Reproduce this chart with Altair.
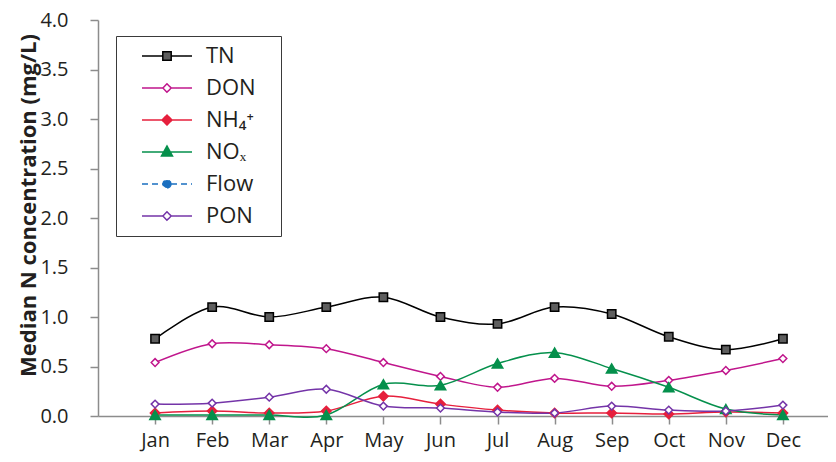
import altair as alt
import pandas as pd

months = ["Jan", "Feb", "Mar", "Apr", "May", "Jun", "Jul", "Aug", "Sep", "Oct", "Nov", "Dec"]
month_idx = list(range(12))

series_names = ["TN", "DON", "NH₄⁺", "NOₓ", "Flow", "PON"]
tn = [0.78, 1.10, 1.00, 1.10, 1.20, 1.00, 0.93, 1.10, 1.03, 0.80, 0.67, 0.78]
don = [0.54, 0.73, 0.72, 0.68, 0.54, 0.40, 0.29, 0.38, 0.30, 0.36, 0.46, 0.58]
nh4 = [0.03, 0.05, 0.03, 0.05, 0.20, 0.12, 0.06, 0.03, 0.03, 0.02, 0.04, 0.03]
nox = [0.01, 0.01, 0.01, 0.01, 0.32, 0.31, 0.53, 0.64, 0.48, 0.29, 0.07, 0.01]
pon = [0.12, 0.13, 0.19, 0.27, 0.10, 0.08, 0.04, 0.03, 0.10, 0.06, 0.05, 0.11]

line_colors = ["#000000", "#c0168c", "#e6203d", "#05904c", "#1a6fc0", "#7434a8"]
marker_fills = ["#5e5e5e", "#ffffff", "#e6203d", "#05904c", "#1a6fc0", "#ffffff"]
marker_shapes = ["square", "diamond", "diamond", "triangle-up", "circle", "diamond"]
marker_sizes = [70, 60, 90, 110, 70, 60]

rows = []
for name, vals in zip(["TN", "DON", "NH₄⁺", "NOₓ", "PON"], [tn, don, nh4, nox, pon]):
    for i, v in enumerate(vals):
        rows.append({"m": month_idx[i], "series": name, "v": v})
df = pd.DataFrame(rows)

label_expr = "[" + ",".join("'%s'" % m for m in months) + "][datum.value]"

x_axis = alt.Axis(values=month_idx, labelExpr=label_expr, title=None, grid=False,
                  tickSize=8, labelPadding=6)
y_axis = alt.Axis(values=[0, 0.5, 1, 1.5, 2, 2.5, 3, 3.5, 4], format=".1f", grid=False,
                  tickSize=8, labelPadding=22,
                  title="Median N concentration (mg/L)", titleFont="Open Sans",
                  titleFontWeight="bold", titleFontSize=22, titleColor="#231f20",
                  titleX=-70, titleY=185, titleAlign="center", titleBaseline="middle")

x_scale = alt.Scale(domain=[-1, 11.79], nice=False, zero=False)
y_scale = alt.Scale(domain=[0, 4], nice=False)


def xy():
    return dict(x=alt.X("m:Q", scale=x_scale, axis=x_axis),
                y=alt.Y("v:Q", scale=y_scale, axis=y_axis))


layers = []
for k, name in enumerate(series_names):
    sub = df[df.series == name]
    if len(sub) == 0:
        continue
    layers.append(alt.Chart(sub).mark_line(interpolate="cardinal", strokeWidth=1.5,
                                           color=line_colors[k]).encode(**xy()))
for k, name in enumerate(series_names):
    sub = df[df.series == name]
    if len(sub) == 0:
        continue
    layers.append(alt.Chart(sub).mark_point(shape=marker_shapes[k], size=marker_sizes[k],
                                            filled=True, fill=marker_fills[k],
                                            stroke=line_colors[k], strokeWidth=1.5,
                                            opacity=1).encode(**xy()))

# legend symbols: line + marker paths (unit = 10 px, symbol size 400)
paths = [
    "M-2.5,0H-0.42M0.42,0H2.5M-0.42,-0.42H0.42V0.42H-0.42Z",
    "M-2.5,0H-0.42M0.42,0H2.5M0,-0.42L0.42,0L0,0.42L-0.42,0Z",
    "M-2.5,0H2.5M0,-0.5L0.5,0L0,0.5L-0.5,0Z",
    "M-2.5,0H2.5M0,-0.6L0.55,0.4L-0.55,0.4Z",
    "M-2.5,0H-0.4M0.4,0H2.5M0.4,0A0.4,0.4 0 1,1 -0.4,0A0.4,0.4 0 1,1 0.4,0Z",
    "M-2.5,0H-0.42M0.42,0H2.5M0,-0.42L0.42,0L0,0.42L-0.42,0Z",
]
dashes = [[1, 0], [1, 0], [1, 0], [1, 0], [6, 4], [1, 0]]

leg = alt.Legend(title=None, orient="none", legendX=18, legendY=16,
                 labelFont="Open Sans", labelFontSize=22, labelColor="#231f20",
                 strokeColor="#3a3a3a", fillColor="white", padding=9, rowPadding=10,
                 symbolSize=400, symbolStrokeWidth=1.5, symbolOffset=31, labelOffset=28,
                 labelExpr="datum.label + '\u2800'")

leg_df = pd.DataFrame({"series": series_names, "m": [None] * 6, "v": [None] * 6})
legend_layer = alt.Chart(leg_df).transform_filter("isValid(datum.v)").mark_point(
    filled=True, opacity=1, size=400, strokeWidth=1.5).encode(
    x=alt.X("m:Q", scale=x_scale, axis=x_axis),
    y=alt.Y("v:Q", scale=y_scale, axis=y_axis),
    shape=alt.Shape("series:N", scale=alt.Scale(domain=series_names, range=paths), legend=leg),
    fill=alt.Fill("series:N", scale=alt.Scale(domain=series_names, range=marker_fills), legend=leg),
    stroke=alt.Stroke("series:N", scale=alt.Scale(domain=series_names, range=line_colors), legend=leg),
    strokeDash=alt.StrokeDash("series:N", scale=alt.Scale(domain=series_names, range=dashes), legend=leg),
)
layers.append(legend_layer)

chart = alt.layer(*layers).properties(
    width=730, height=396,
    padding={"left": 90, "top": 12, "right": 0, "bottom": 38},
    autosize=alt.AutoSizeParams(type="none"),
).configure_view(stroke=None).configure_axis(
    domainColor="#8c8c8c", tickColor="#8c8c8c", domainWidth=1.5, tickWidth=1.5,
    labelFont="Open Sans", labelFontSize=20, labelColor="#231f20",
)

chart.save("out.html", embed_options={"renderer": "svg", "actions": False})
